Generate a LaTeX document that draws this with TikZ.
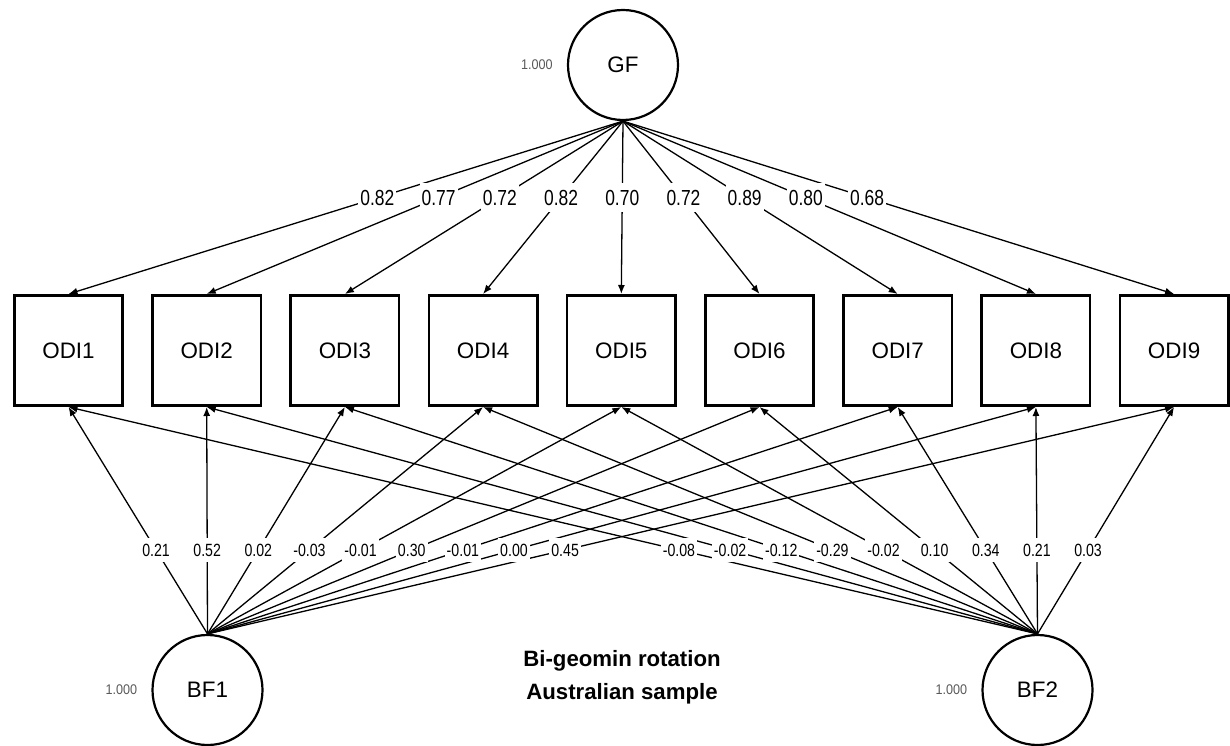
\documentclass[tikz,border=0pt]{standalone}
\usepackage{fontspec}
\setmainfont{Liberation Sans}
\newfontfamily\coefsf[FakeStretch=0.8]{Liberation Sans}
\newfontfamily\varsf[FakeStretch=0.9]{Liberation Sans}
\usetikzlibrary{arrows.meta}
\usetikzlibrary{positioning}
\colorlet{vargray}{black!65}
\tikzset{
  latent/.style={circle,draw,line width=2.2pt,minimum size=110pt,inner sep=0pt,
    font=\fontsize{22.4}{26}\selectfont},
  indic/.style={rectangle,draw,line width=2.6pt,minimum width=108.4pt,
    minimum height=110.4pt,inner sep=0pt,font=\fontsize{22.4}{26}\selectfont},
  load/.style={line width=1.3pt,-{Latex[length=9pt,width=7pt]}},
  topcoef/.style={fill=white,inner xsep=2pt,inner ysep=7pt,
    font=\coefsf\fontsize{21.8}{24}\selectfont},
  botcoef/.style={fill=white,inner xsep=2pt,inner ysep=6pt,
    font=\coefsf\fontsize{17.7}{20}\selectfont},
  varlab/.style={text=vargray,inner sep=0pt,font=\varsf\fontsize{14}{16}\selectfont},
}
\begin{document}
\begin{tikzpicture}[x=1pt,y=-1pt]
    \useasboundingbox (0,0) rectangle (1230,746);
    % Factors
    \node[latent] (GF) at (623,65) {GF};
    \node[latent] (BF1) at (207.5,690) {BF1};
    \node[latent] (BF2) at (1037.5,690) {BF2};
    \node[varlab,left=14pt of GF] (vGF) {1.000};
    \node[varlab,left=14pt of BF1] (vBF1) {1.000};
    \node[varlab,left=14pt of BF2] (vBF2) {1.000};
    % Items
    \foreach \k in {1,...,9}
      \node[indic] (ODI\k) at ({68.5+138.2*(\k-1)},350.5) {ODI\k};
    % Loadings
    \foreach \k in {1,...,9} {
      \draw[load] (GF.south) -- (ODI\k.north) coordinate[pos=0.443] (g\k);
      \draw[load] (BF1.north) -- (ODI\k.south) coordinate[pos=0.37] (a\k);
      \draw[load] (BF2.north) -- (ODI\k.south) coordinate[pos=0.37] (b\k);
    }
    \foreach \k/\g/\a/\b in {1/0.82/0.21/-0.08, 2/0.77/0.52/-0.02,
        3/0.72/0.02/-0.12, 4/0.82/-0.03/-0.29, 5/0.70/-0.01/-0.02,
        6/0.72/0.30/0.10, 7/0.89/-0.01/0.34, 8/0.80/0.00/0.21,
        9/0.68/0.45/0.03} {
      \node[topcoef] (lg\k) at (g\k) {\g};
      \node[botcoef] (la\k) at (a\k) {\a};
      \node[botcoef] (lb\k) at (b\k) {\b};
    }
    % Caption
    \node[align=center,font=\bfseries\fontsize{22.2}{33}\selectfont] (cap)
      at (622,677.5) {Bi-geomin rotation\\Australian sample};
  \end{tikzpicture}
\end{document}
